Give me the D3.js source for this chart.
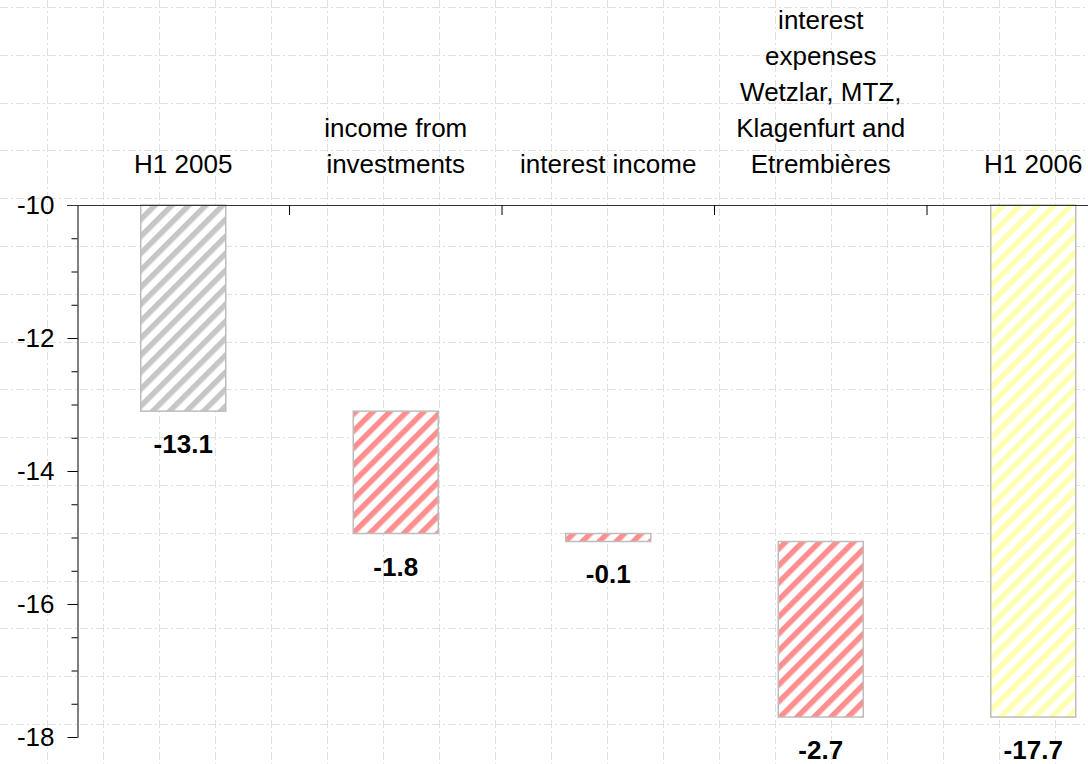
<!DOCTYPE html>
<html>
<head>
<meta charset="utf-8">
<script src="https://cdn.jsdelivr.net/npm/d3@7"></script>
<style>
  html, body { margin: 0; padding: 0; background: #fff; }
  svg { display: block; font-family: "Liberation Sans", Arial, sans-serif; }
</style>
</head>
<body>
<svg id="chart" width="1088" height="764"></svg>
<script>
// ---- data ----
const categories = ["H1 2005", "income from investments", "interest income",
  "interest expenses Wetzlar, MTZ, Klagenfurt and Etrembières", "H1 2006"];
const categoryLines = [
  ["H1 2005"],
  ["income from", "investments"],
  ["interest income"],
  ["interest", "expenses", "Wetzlar, MTZ,", "Klagenfurt and", "Etrembières"],
  ["H1 2006"]
];
const barKinds = ["total", "delta", "delta", "delta", "total"];
const values = [-13.1, -1.84, -0.12, -2.64, -17.7];
const valueLabels = ["-13.1", "-1.8", "-0.1", "-2.7", "-17.7"];
const barColors = ["#c6c6c6", "#ff8e8e", "#ff8e8e", "#ff8e8e", "#ffffb0"];
const yDomain = [-10, -18];
const yMajorTicks = [-10, -12, -14, -16, -18];
const yMinorTicks = d3.range(-10, -18.01, -0.5);

// ---- layout ----
const W = 1088, H = 764;
const svg = d3.select("#chart");
const x = d3.scaleBand().domain(categories).range([77, 1139.5]).padding(0);
const y = d3.scaleLinear().domain(yDomain).range([205, 737]);
const barW = x.bandwidth() * 0.4;

// background grid (dash-dot)
const gx = d3.range(47, W, 56);
const gy = d3.range(7, H, 47.8);
const grid = svg.append("g").attr("stroke", "#e0e0e0").attr("stroke-width", 1)
  .attr("stroke-dasharray", "8,3,2,3");
grid.selectAll("line.v").data(gx).join("line").attr("class", "v")
  .attr("x1", d => d + 0.5).attr("x2", d => d + 0.5).attr("y1", 0).attr("y2", H);
grid.selectAll("line.h").data(gy).join("line").attr("class", "h")
  .attr("y1", d => Math.round(d) + 0.5).attr("y2", d => Math.round(d) + 0.5).attr("x1", 0).attr("x2", W);

// hatch patterns
const defs = svg.append("defs");
barColors.forEach((c, i) => {
  const p = defs.append("pattern").attr("id", "hatch" + i)
    .attr("patternUnits", "userSpaceOnUse").attr("width", 12).attr("height", 12)
    .attr("patternTransform", "rotate(45)");
  p.append("rect").attr("width", 12).attr("height", 12).attr("fill", "#fff");
  p.append("rect").attr("width", 5.5).attr("height", 12).attr("fill", c);
});

// compute bars
let run = 0;
const bars = categories.map((c, i) => {
  let top, bottom;
  if (barKinds[i] === "total") {
    top = yDomain[0]; bottom = values[i]; run = values[i];
  } else {
    top = run; bottom = run + values[i]; run = bottom;
  }
  return { c, i, top, bottom };
});

svg.append("g").selectAll("rect").data(bars).join("rect")
  .attr("x", d => x(d.c) + x.bandwidth() / 2 - barW / 2)
  .attr("width", barW)
  .attr("y", d => y(d.top))
  .attr("height", d => y(d.bottom) - y(d.top))
  .attr("fill", d => `url(#hatch${d.i})`)
  .attr("stroke", "#bdbdbd").attr("stroke-width", 1.5);

// value labels
svg.append("g").selectAll("text").data(bars).join("text")
  .attr("x", d => x(d.c) + x.bandwidth() / 2)
  .attr("y", d => y(d.bottom) + 42)
  .attr("text-anchor", "middle")
  .attr("font-size", 26).attr("font-weight", "bold").attr("fill", "#000")
  .text(d => valueLabels[d.i]);

// y axis (minor + major)
const yMinor = svg.append("g").attr("transform", "translate(77.5,0)")
  .call(d3.axisLeft(y).tickValues(yMinorTicks).tickSize(6).tickSizeOuter(0).tickFormat(""));
yMinor.select(".domain").remove();
const yMajor = svg.append("g").attr("transform", "translate(77.5,0)")
  .call(d3.axisLeft(y).tickValues(yMajorTicks).tickSize(10).tickSizeOuter(0).tickPadding(13)
    .tickFormat(d => String(d)));
yMajor.selectAll("text").attr("font-size", 26).attr("fill", "#000")
  .attr("font-family", "'Liberation Sans', Arial, sans-serif");
yMajor.selectAll("line, path").attr("stroke", "#000");

// top category axis
const topY = y(yDomain[0]);
svg.append("line").attr("x1", 67).attr("x2", W).attr("y1", topY + 0.5).attr("y2", topY + 0.5)
  .attr("stroke", "#333").attr("stroke-width", 1.2);
svg.append("g").selectAll("line").data(categories.slice(1).concat(["__end"])).join("line")
  .attr("x1", d => d === "__end" ? x.range()[1] : x(d))
  .attr("x2", d => d === "__end" ? x.range()[1] : x(d))
  .attr("y1", topY).attr("y2", topY + 10)
  .attr("stroke", "#000");

// category labels
const lineH = 36;
const catG = svg.append("g");
categories.forEach((c, i) => {
  const lines = categoryLines[i];
  const t = catG.append("text").attr("text-anchor", "middle")
    .attr("font-size", 26).attr("fill", "#000");
  lines.forEach((ln, j) => {
    t.append("tspan")
      .attr("x", x(c) + x.bandwidth() / 2)
      .attr("y", topY - 32 - (lines.length - 1 - j) * lineH)
      .text(ln);
  });
});
</script>
</body>
</html>
